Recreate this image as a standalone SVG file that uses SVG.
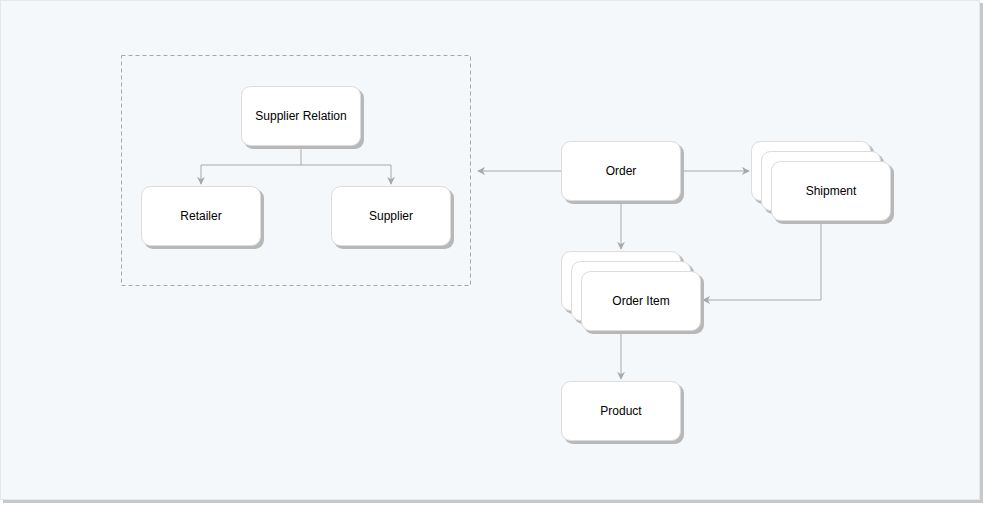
<svg xmlns="http://www.w3.org/2000/svg" width="984" height="505" viewBox="0 0 984 505">
<defs>
<style>
.card{fill:#ffffff;stroke:#dcdcdc;stroke-width:1}
.sh{fill:#b8b8b8}
.lbl{font-family:"Liberation Sans",Arial,sans-serif;font-size:12px;fill:#000;text-anchor:middle;dominant-baseline:central}
.edge{fill:none;stroke:#a8a8a8;stroke-width:1}
</style>
<marker id="arr" viewBox="0 0 10 10" refX="9" refY="5" markerWidth="8" markerHeight="8" markerUnits="userSpaceOnUse" orient="auto">
<path d="M0,0 L10,5 L0,10 L3,5 Z" fill="#a8a8a8"/>
</marker>
</defs>
<rect x="3" y="3" width="980" height="500" fill="#c8c8c8"/>
<rect x="0.5" y="0.5" width="979" height="499" fill="#f4f8fb" stroke="#e4e8ec"/>
<rect x="121.5" y="55.5" width="349" height="230" fill="none" stroke="#a8a8a8" stroke-dasharray="4 3"/>
<g id="connectors">
<path class="edge" d="M301,146 V165 H201 V184" marker-end="url(#arr)"/>
<path class="edge" d="M301,165 H391 V184" marker-end="url(#arr)"/>
<path class="edge" d="M561,171 H478" marker-end="url(#arr)"/>
<path class="edge" d="M681,171 H749" marker-end="url(#arr)"/>
<path class="edge" d="M621,201 V249" marker-end="url(#arr)"/>
<path class="edge" d="M821,221 V300 H703" marker-end="url(#arr)"/>
<path class="edge" d="M621,331 V379" marker-end="url(#arr)"/>
</g>
<g id="supplier-relation">
<rect class="sh" x="244" y="89" width="120" height="60" rx="9"/>
<rect class="card" x="241.5" y="86.5" width="119" height="59" rx="9"/>
<text class="lbl" x="301" y="116">Supplier Relation</text>
</g>
<g id="retailer">
<rect class="sh" x="144" y="189" width="120" height="60" rx="9"/>
<rect class="card" x="141.5" y="186.5" width="119" height="59" rx="9"/>
<text class="lbl" x="201" y="216">Retailer</text>
</g>
<g id="supplier">
<rect class="sh" x="334" y="189" width="120" height="60" rx="9"/>
<rect class="card" x="331.5" y="186.5" width="119" height="59" rx="9"/>
<text class="lbl" x="391" y="216">Supplier</text>
</g>
<g id="order">
<rect class="sh" x="564" y="144" width="120" height="60" rx="9"/>
<rect class="card" x="561.5" y="141.5" width="119" height="59" rx="9"/>
<text class="lbl" x="621" y="171">Order</text>
</g>
<g id="shipment">
<rect class="sh" x="754" y="144" width="120" height="60" rx="9"/>
<rect class="card" x="751.5" y="141.5" width="119" height="59" rx="9"/>
<rect class="sh" x="764" y="154" width="120" height="60" rx="9"/>
<rect class="card" x="761.5" y="151.5" width="119" height="59" rx="9"/>
<rect class="sh" x="774" y="164" width="120" height="60" rx="9"/>
<rect class="card" x="771.5" y="161.5" width="119" height="59" rx="9"/>
<text class="lbl" x="831" y="191">Shipment</text>
</g>
<g id="order-item">
<rect class="sh" x="564" y="254" width="120" height="60" rx="9"/>
<rect class="card" x="561.5" y="251.5" width="119" height="59" rx="9"/>
<rect class="sh" x="574" y="264" width="120" height="60" rx="9"/>
<rect class="card" x="571.5" y="261.5" width="119" height="59" rx="9"/>
<rect class="sh" x="584" y="274" width="120" height="60" rx="9"/>
<rect class="card" x="581.5" y="271.5" width="119" height="59" rx="9"/>
<text class="lbl" x="641" y="301">Order Item</text>
</g>
<g id="product">
<rect class="sh" x="564" y="384" width="120" height="60" rx="9"/>
<rect class="card" x="561.5" y="381.5" width="119" height="59" rx="9"/>
<text class="lbl" x="621" y="411">Product</text>
</g>
</svg>
